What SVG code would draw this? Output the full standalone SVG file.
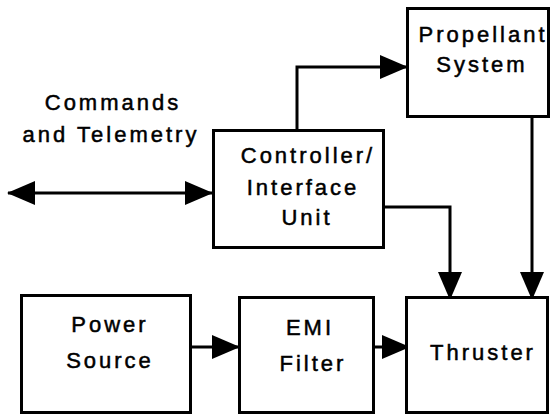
<svg xmlns="http://www.w3.org/2000/svg" width="551" height="417" viewBox="0 0 551 417">
<defs>
<style>
.box{fill:#fff;stroke:#000;stroke-width:3}
.ln{fill:none;stroke:#000;stroke-width:3}
text{font-family:"Liberation Sans",Arial,sans-serif;font-size:22px;letter-spacing:3px;fill:#000;stroke:#000;stroke-width:0.5;text-anchor:middle}
</style>
<marker id="ah" markerUnits="userSpaceOnUse" markerWidth="28" markerHeight="24" refX="27" refY="12" orient="auto-start-reverse" viewBox="0 0 28 24">
<path d="M0,0 L28,12 L0,24 Z" fill="#000"/>
</marker>
</defs>
<rect width="551" height="417" fill="#fff"/>
<g id="connectors">
<path class="ln" d="M8,193 H212" marker-start="url(#ah)" marker-end="url(#ah)"/>
<path class="ln" d="M297,130 V67 H407" marker-end="url(#ah)"/>
<path class="ln" d="M384,207 H450 V299" marker-end="url(#ah)"/>
<path class="ln" d="M532,116 V299" marker-end="url(#ah)"/>
<path class="ln" d="M191,347 H239" marker-end="url(#ah)"/>
<path class="ln" d="M373,347 H409" marker-end="url(#ah)"/>
</g>
<g id="label-commands">
<text x="113" y="110">Commands</text>
<text x="111" y="142">and Telemetry</text>
</g>
<g id="propellant">
<rect class="box" x="407.5" y="8.5" width="141" height="108"/>
<text x="483" y="42">Propellant</text>
<text x="482" y="72">System</text>
</g>
<g id="controller">
<rect class="box" x="213.5" y="130.5" width="170" height="117"/>
<text x="308" y="163">Controller/</text>
<text x="303" y="195">Interface</text>
<text x="307" y="225">Unit</text>
</g>
<g id="power">
<rect class="box" x="21.5" y="295.5" width="169" height="117"/>
<text x="110" y="332">Power</text>
<text x="110" y="368">Source</text>
</g>
<g id="emi">
<rect class="box" x="239.5" y="297.5" width="134" height="115"/>
<text x="310" y="335">EMI</text>
<text x="313" y="371">Filter</text>
</g>
<g id="thruster">
<rect class="box" x="406.5" y="297.5" width="141" height="115"/>
<text x="483" y="360">Thruster</text>
</g>
</svg>
